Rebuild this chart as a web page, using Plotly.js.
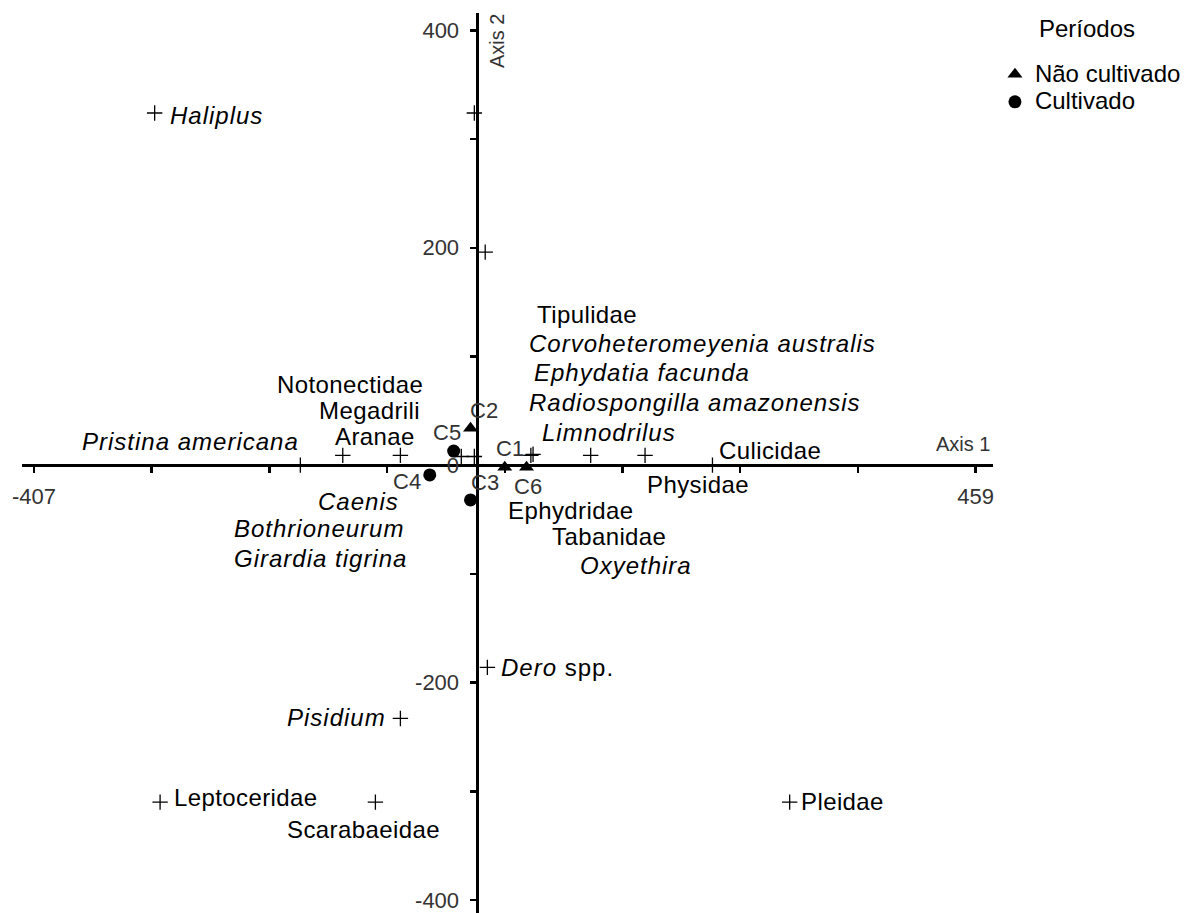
<!DOCTYPE html>
<html>
<head>
<meta charset="utf-8">
<script src="https://cdn.plot.ly/plotly-3.0.1.min.js"></script>
<style>html,body{margin:0;padding:0;background:#fff;}#chart{width:1203px;height:913px;}</style>
</head>
<body>
<div id="chart"></div>
<script>
// ---- Data (ordination scores) ----
const speciesX = [-296, -2, 8, -162, -123, -70, -14, -2, 50, 52, 105, 155, 217, 10, -70, -291, -93, 288];
const speciesY = [324, 324, 196, 0, 9, 9, 8, 8, 9, 10, 9, 9, 0, -186, -233, -310, -310, -310];

const naoCultNames = ['C1', 'C2', 'C6'];
const naoCultX = [26, -5.5, 46];
const naoCultY = [-2, 34, -2];

const cultNames = ['C3', 'C4', 'C5'];
const cultX = [-5.5, -43, -21];
const cultY = [-32, -9, 13];

const speciesLabels = ['Haliplus', 'Pristina americana', 'Notonectidae', 'Megadrili', 'Aranae', 'Caenis',
  'Bothrioneurum', 'Girardia tigrina', 'Tipulidae', 'Corvoheteromeyenia australis', 'Ephydatia facunda',
  'Radiospongilla amazonensis', 'Limnodrilus', 'Culicidae', 'Physidae', 'Ephydridae', 'Tabanidae',
  'Oxyethira', 'Dero spp.', 'Pisidium', 'Leptoceridae', 'Scarabaeidae', 'Pleidae'];
const italicLabels = ['Haliplus', 'Pristina americana', 'Caenis', 'Bothrioneurum', 'Girardia tigrina',
  'Corvoheteromeyenia australis', 'Ephydatia facunda', 'Radiospongilla amazonensis', 'Limnodrilus',
  'Oxyethira', 'Pisidium'];

const xTickVals = [-407, -298.75, -190.5, -82.25, 26, 134.25, 242.5, 350.75, 459];
const xTickText = ['-407', '', '', '', '', '', '', '', '459'];
const yTickVals = [-400, -300, -200, -100, 0, 100, 200, 300, 400];
const yTickText = ['-400', '', '-200', '', '0', '', '200', '', '400'];

// ---- Label placement (layout only: left edge x, centre y in axis units) ----
const labelPos = {
  'Haliplus': [-284, 322], 'Pristina americana': [-365, 22], 'Notonectidae': [-185, 74.5],
  'Megadrili': [-147, 50.6], 'Aranae': [-132, 26.7], 'Caenis': [-148, -33],
  'Bothrioneurum': [-225, -58], 'Girardia tigrina': [-225, -85.5], 'Tipulidae': [53.6, 139],
  'Corvoheteromeyenia australis': [46.3, 112], 'Ephydatia facunda': [51, 85.5],
  'Radiospongilla amazonensis': [46.3, 58], 'Limnodrilus': [58, 30.3], 'Culicidae': [221, 13.8],
  'Physidae': [155, -17.5], 'Ephydridae': [27, -41.5], 'Tabanidae': [68, -65.3],
  'Oxyethira': [93, -92], 'Dero spp.': [20.5, -185.7], 'Pisidium': [-176, -231.7],
  'Leptoceridae': [-280, -306], 'Scarabaeidae': [-176, -335.6], 'Pleidae': [297, -309]
};
const sampleShift = {C1: [5, 19], C2: [13, 18], C6: [1, -19], C3: [14, 17], C4: [-23, -7], C5: [-7, 19]};

const xRange = [-418, 475];
const yRange = [-412, 416];
const FONT = 'Liberation Sans, Arial, sans-serif';

const traces = [
  {
    x: speciesX, y: speciesY, mode: 'markers', type: 'scatter', showlegend: false, hoverinfo: 'skip',
    marker: {symbol: 'cross-thin', size: 11, color: '#000', line: {width: 1.3, color: '#000'}}
  },
  {
    x: naoCultX, y: naoCultY, text: naoCultNames, name: '<span style="font-size:24px">Não cultivado</span>',
    mode: 'markers', type: 'scatter',
    marker: {symbol: 'triangle-up', size: 13, color: '#000'}
  },
  {
    x: cultX, y: cultY, text: cultNames, name: '<span style="font-size:24px">Cultivado</span>',
    mode: 'markers', type: 'scatter',
    marker: {symbol: 'circle', size: 13, color: '#000'}
  }
];

const annotations = [];
speciesLabels.forEach(function (name) {
  const p = labelPos[name];
  let txt, sp;
  if (name === 'Dero spp.') { txt = '<i>Dero</i> spp.'; sp = 1; }
  else if (italicLabels.indexOf(name) >= 0) { txt = '<i>' + name + '</i>'; sp = 1; }
  else { txt = name; sp = 0.4; }
  annotations.push({
    x: p[0], y: p[1], xref: 'x', yref: 'y', text: '<span style="letter-spacing:' + sp + 'px">' + txt + '</span>',
    showarrow: false, xanchor: 'left', yanchor: 'middle',
    font: {family: FONT, size: 24, color: '#000'}
  });
});
function addSampleLabels(names, xs, ys) {
  names.forEach(function (n, i) {
    annotations.push({
      x: xs[i], y: ys[i], xref: 'x', yref: 'y', text: n, showarrow: false,
      xshift: sampleShift[n][0], yshift: sampleShift[n][1], xanchor: 'center', yanchor: 'middle',
      font: {family: FONT, size: 22, color: '#333'}
    });
  });
}
addSampleLabels(naoCultNames, naoCultX, naoCultY);
addSampleLabels(cultNames, cultX, cultY);

annotations.push({x: 473.8, y: 19.3, xref: 'x', yref: 'y', text: 'Axis 1', showarrow: false,
  xanchor: 'right', yanchor: 'middle', font: {family: FONT, size: 20, color: '#333'}});
annotations.push({x: 18.7, y: 390, xref: 'x', yref: 'y', text: 'Axis 2', showarrow: false, textangle: -90,
  xanchor: 'center', yanchor: 'middle', font: {family: FONT, size: 20, color: '#333'}});
annotations.push({x: 1.0453, y: 0.9833, xref: 'paper', yref: 'paper', text: 'Períodos', showarrow: false,
  xanchor: 'left', yanchor: 'middle', font: {family: FONT, size: 24, color: '#000'}});

const xPos = (0 - yRange[0]) / (yRange[1] - yRange[0]);
const yPos = (0 - xRange[0]) / (xRange[1] - xRange[0]);

const layout = {
  width: 1203, height: 913,
  margin: {l: 22, r: 210, t: 13, b: 0, pad: 0},
  paper_bgcolor: '#fff', plot_bgcolor: '#fff',
  showlegend: true,
  legend: {x: 1.002, y: 0.953, xanchor: 'left', yanchor: 'top', font: {family: FONT, size: 19, color: '#000'},
    bgcolor: 'rgba(0,0,0,0)', itemsizing: 'trace'},
  xaxis: {
    range: xRange, anchor: 'free', position: xPos, showgrid: false, zeroline: false,
    showline: true, linecolor: '#000', linewidth: 3, ticks: 'outside', ticklen: 6, tickwidth: 2.5,
    tickcolor: '#000', tickmode: 'array', tickvals: xTickVals, ticktext: xTickText,
    tickfont: {family: FONT, size: 22, color: '#333'}, ticklabelstandoff: 4, fixedrange: true
  },
  yaxis: {
    range: yRange, anchor: 'free', position: yPos, showgrid: false, zeroline: false,
    showline: true, linecolor: '#000', linewidth: 3, ticks: 'outside', ticklen: 6, tickwidth: 2.5,
    tickcolor: '#000', tickmode: 'array', tickvals: yTickVals, ticktext: yTickText,
    tickfont: {family: FONT, size: 22, color: '#333'}, ticklabelstandoff: 6, fixedrange: true
  },
  annotations: annotations
};

Plotly.newPlot('chart', traces, layout, {displayModeBar: false, staticPlot: true});
</script>
</body>
</html>
